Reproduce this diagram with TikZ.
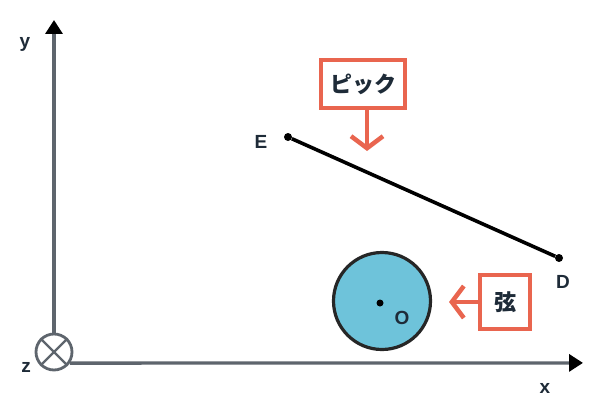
\documentclass[tikz,border=0pt]{standalone}
\usepackage{fontspec}
\setmainfont{Liberation Sans}
\newfontfamily\jpfont{Noto Sans CJK JP}
\usetikzlibrary{arrows.meta}
\definecolor{salmon}{HTML}{E9654F}
\definecolor{axisgray}{HTML}{5E656D}
\definecolor{ink}{HTML}{1E2B38}
\definecolor{diskblue}{HTML}{6EC3DA}
\begin{document}
\begin{tikzpicture}[x=1pt,y=-1pt,
  lbl/.style={font=\bfseries\fontsize{19}{19}\selectfont, text=ink, inner sep=0pt},
  tagbox/.style={draw=salmon, line width=3.8pt, fill=white, text=ink, inner sep=0pt,
     font=\jpfont\bfseries\fontsize{22}{22}\selectfont},
  tagarrow/.style={draw=salmon, line width=4.5pt, -{Straight Barb[length=12pt,width=32pt]}},
  axis/.style={draw=axisgray, line width=3.3pt, -{Triangle[length=14pt,width=17pt,color=black]}},
  pt/.style={circle, fill=black, inner sep=0pt, minimum size=8pt}]
\useasboundingbox[fill=white] (0,0) rectangle (604,401);

% axes
\node[circle, draw=axisgray, line width=2.8pt, minimum size=36pt, inner sep=0pt] (z) at (54,352) {};
\draw[axisgray, line width=2.4pt] (z.45) -- (z.225) (z.135) -- (z.315);
\coordinate (ytip) at (54,20);
\coordinate (xtip) at (583,362.9);
\draw[axis] (z.north) -- (ytip);
\draw[axis] (z.-35) -- (xtip);
\node[lbl] (ylab) at (25,44) {y};
\node[lbl] (xlab) at (545,388) {x};
\node[lbl] (zlab) at (26,367) {z};

% segment ED
\node[pt] (E) at (288,137) {};
\node[pt] (D) at (559,258) {};
\draw[black, line width=3.6pt] (E) -- (D);
\node[lbl] (Elab) at (261,142) {E};
\node[lbl] (Dlab) at (563,282) {D};

% disk O
\node[circle, draw=black!85, fill=diskblue, line width=3.2pt, minimum size=97pt, inner sep=0pt] (disk) at (382,301) {};
\node[pt, minimum size=7pt] (O) at (380,303) {};
\node[lbl] (Olab) at (402,318) {O};

% tags
\node[tagbox, minimum width=84pt, minimum height=48pt] (pick) at (363,84) {ピック};
\coordinate (picktip) at (367,151);
\draw[tagarrow] (pick.south -| picktip) -- (picktip);

\node[tagbox, minimum width=50pt, minimum height=54pt] (gen) at (505,302) {弦};
\coordinate (gentip) at (449,302);
\draw[tagarrow] (gen.west) -- (gentip);
\end{tikzpicture}
\end{document}
